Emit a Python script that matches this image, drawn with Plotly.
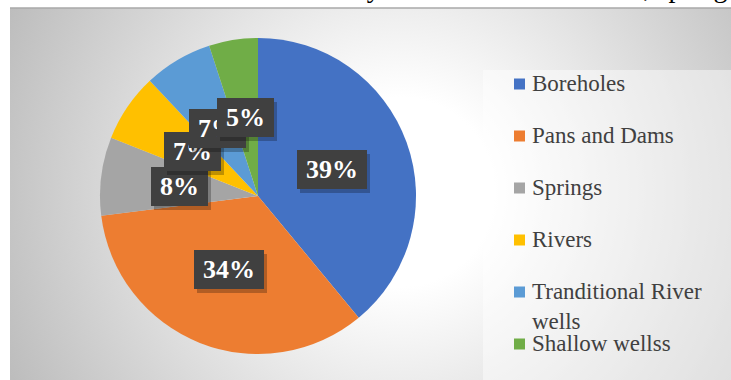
import base64
import math

import plotly.graph_objects as go

# ---- data -------------------------------------------------------------
sources = ["Boreholes", "Pans and Dams", "Springs", "Rivers",
           "Tranditional River wells", "Shallow wellss"]
shares = [39, 34, 8, 7, 7, 5]
legend_text = ["Boreholes", "Pans and Dams", "Springs", "Rivers",
               "Tranditional River<br>wells", "Shallow wellss"]
colors = ["#4472C4", "#ED7D31", "#A5A5A5", "#FFC000", "#5B9BD5", "#70AD47"]

SERIF = "Liberation Serif"

# ---- page geometry (pixels) -------------------------------------------
W, H = 731, 380
AREA_L, AREA_T = 10, 8          # chart area top-left corner
CX, CY, R = 258, 196, 158       # pie centre and radius
LEG_L, LEG_T = 483, 70          # legend panel
LEG_ROW0, LEG_STEP = 84, 52     # first legend row centre, row pitch


def px(x):
    return x / W


def py(y):
    return 1 - y / H


# radial grey-to-white gradient for the chart area
aw, ah = W - AREA_L, H - AREA_T
svg = (
    f"<svg xmlns='http://www.w3.org/2000/svg' width='{aw}' height='{ah}' "
    f"viewBox='0 0 {aw} {ah}' preserveAspectRatio='none'>"
    "<defs><radialGradient id='g' gradientUnits='userSpaceOnUse' "
    "cx='390' cy='184' r='430'>"
    "<stop offset='0' stop-color='#ffffff'/>"
    "<stop offset='0.22' stop-color='#ffffff'/>"
    "<stop offset='1' stop-color='#bdbdbd'/>"
    "</radialGradient></defs>"
    f"<rect width='{aw}' height='{ah}' fill='url(#g)'/></svg>"
)
bg_uri = "data:image/svg+xml;base64," + base64.b64encode(svg.encode()).decode()

fig = go.Figure(
    go.Pie(
        labels=sources,
        values=shares,
        sort=False,
        direction="clockwise",
        rotation=0,
        textinfo="none",
        hoverinfo="label+percent",
        marker=dict(colors=colors, line=dict(width=0)),
        domain=dict(x=[px(CX - R), px(CX + R)], y=[py(CY + R), py(CY - R)]),
        showlegend=False,
    )
)

shapes = []
annotations = []

# top border of the chart area
shapes.append(dict(type="line", xref="paper", yref="paper",
                   x0=px(AREA_L), x1=1, y0=py(AREA_T), y1=py(AREA_T),
                   line=dict(color="#a8a8a8", width=1.5)))

# legend panel
shapes.append(dict(type="rect", xref="paper", yref="paper",
                   x0=px(LEG_L), x1=1, y0=0, y1=py(LEG_T),
                   fillcolor="rgba(255,255,255,0.45)", line=dict(width=0),
                   layer="below"))

# data labels: dark boxes at half radius along each slice's mid-angle
total = sum(shares)
cum = 0
for v in shares:
    mid = (cum + v / 2) / total * 2 * math.pi
    cum += v
    lx = CX + 0.5 * R * math.sin(mid)
    ly = CY - 0.5 * R * math.cos(mid)
    text = f"{v}%"
    bw = 70 if len(text) > 2 else 57
    # soft drop shadow
    annotations.append(dict(
        xref="paper", yref="paper", x=px(lx + 3), y=py(ly + 4),
        xanchor="center", yanchor="middle",
        text=text, showarrow=False, width=bw, height=39,
        bgcolor="rgba(0,0,0,0.25)", borderpad=0, borderwidth=0,
        font=dict(family=SERIF, size=26, color="rgba(0,0,0,0)"),
    ))
    annotations.append(dict(
        xref="paper", yref="paper", x=px(lx), y=py(ly),
        xanchor="center", yanchor="middle",
        text=f"<b>{text}</b>", showarrow=False, width=bw, height=39,
        bgcolor="#404040", borderpad=0, borderwidth=0,
        font=dict(family=SERIF, size=26, color="#ffffff"),
    ))

# legend entries
for i, (name, col) in enumerate(zip(legend_text, colors)):
    ry = LEG_ROW0 + i * LEG_STEP
    shapes.append(dict(type="rect", xref="paper", yref="paper",
                       x0=px(514), x1=px(525), y0=py(ry + 5.5), y1=py(ry - 5.5),
                       fillcolor=col, line=dict(width=0)))
    annotations.append(dict(
        xref="paper", yref="paper", x=px(531), y=py(ry - 14),
        xanchor="left", yanchor="top", align="left",
        text=name, showarrow=False, borderpad=0,
        font=dict(family=SERIF, size=23, color="#404040"),
    ))

# running text of the page above the chart (only its descenders show)
annotations.append(dict(
    xref="paper", yref="paper", x=px(383), y=py(-12), xanchor="right",
    yanchor="middle", text="sources of water used by", showarrow=False,
    font=dict(family=SERIF, size=28, color="#000000"),
))
annotations.append(dict(
    xref="paper", yref="paper", x=px(595), y=py(-12), xanchor="left",
    yanchor="middle", text="area, springs", showarrow=False,
    font=dict(family=SERIF, size=28, color="#000000"),
))

fig.update_layout(
    width=W, height=H,
    margin=dict(l=0, r=0, t=0, b=0),
    paper_bgcolor="#ffffff",
    plot_bgcolor="rgba(0,0,0,0)",
    images=[dict(source=bg_uri, xref="paper", yref="paper",
                 x=px(AREA_L), y=py(AREA_T), sizex=aw / W, sizey=ah / H,
                 xanchor="left", yanchor="top", sizing="stretch",
                 layer="below")],
    shapes=shapes,
    annotations=annotations,
)

fig.write_html("out.html")
